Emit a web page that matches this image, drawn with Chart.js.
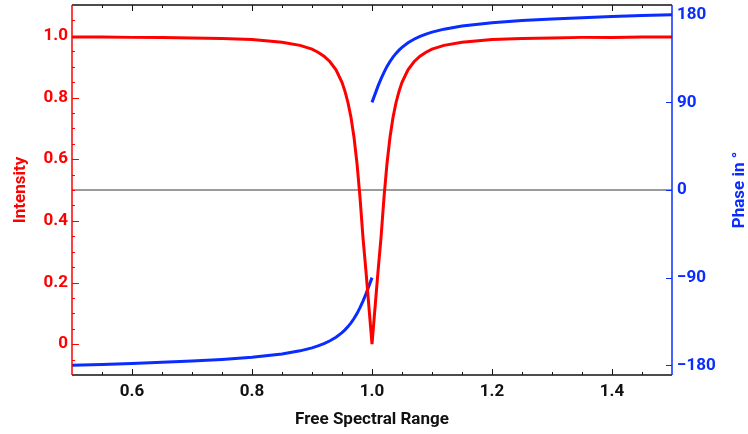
<!DOCTYPE html>
<html>
<head>
<meta charset="utf-8">
<script src="https://cdn.jsdelivr.net/npm/chart.js@4.4.0/dist/chart.umd.min.js"></script>
<style>
  html, body { margin: 0; padding: 0; background: #fff; }
  canvas { display: block; }
</style>
</head>
<body>
<canvas id="ringChart" width="748" height="434"></canvas>
<script>
// frequency in units of the free spectral range
const freq = [
    0.5, 0.55, 0.6, 0.65, 0.7, 0.75, 0.8, 0.85, 0.88, 0.9, 0.91, 0.92, 0.93, 0.94, 0.95,
    0.955, 0.96, 0.965, 0.97, 0.975, 0.98, 0.985, 0.99, 1.0,
    1.01, 1.015, 1.02, 1.025, 1.03, 1.035, 1.04, 1.045, 1.05, 1.06, 1.07, 1.08,
    1.09, 1.1, 1.12, 1.15, 1.2, 1.25, 1.3, 1.35, 1.4, 1.45, 1.5
];

// transmitted intensity (red, left axis)
const intensity = [
    0.996, 0.996, 0.995, 0.995, 0.993, 0.991, 0.988, 0.979, 0.969, 0.957, 0.947, 0.934, 0.916, 0.890, 0.849,
    0.820, 0.783, 0.735, 0.671, 0.586, 0.476, 0.345, 0.235, 0.0,
    0.235, 0.345, 0.476, 0.586, 0.671, 0.735, 0.783, 0.820, 0.849, 0.890, 0.916, 0.934,
    0.947, 0.957, 0.969, 0.979, 0.988, 0.991, 0.993, 0.995, 0.995, 0.996, 0.996
];

// phase in degrees (blue, right axis), below and above the resonance
const phaseBelow = [
    -180, -179.1, -178.1, -176.9, -175.6, -174.0, -171.8, -168.4, -165.2, -162.1, -160.1, -157.8, -154.8, -151.2, -146.5,
    -143.6, -140.3, -136.4, -132.0, -126.9, -120.9, -114.2, -106.7, -90
];
const phaseAbove = [
    90, 106.7, 114.2, 120.9, 126.9, 132.0, 136.4, 140.3, 143.6, 146.5, 151.2, 154.8,
    157.8, 160.1, 162.1, 165.2, 168.4, 171.8, 174.0, 175.6, 176.9, 178.1, 179.1, 180
];

const xTicks = [0.6, 0.8, 1.0, 1.2, 1.4];
const intensityTicks = [0, 0.2, 0.4, 0.6, 0.8, 1.0];
const phaseTicks = [-180, -90, 0, 90, 180];

const RED = '#ff0000';
const BLUE = '#0a2cff';
const FONT = 'Roboto';

// build the point lists
const split = freq.indexOf(1.0);
const intensityPts = freq.map((f, i) => ({ x: f, y: intensity[i] }));
const phasePts = freq.slice(0, split + 1).map((f, i) => ({ x: f, y: phaseBelow[i] }))
    .concat([{ x: 1.0, y: null }])
    .concat(freq.slice(split).map((f, i) => ({ x: f, y: phaseAbove[i] })));

// Mathematica-like frame: inward ticks, coloured axes, rotated titles
const framePlugin = {
    id: 'frame',
    afterDraw(chart) {
        const { ctx, chartArea: a, scales } = chart;
        ctx.save();
        ctx.lineCap = 'butt';

        function seg(x1, y1, x2, y2) {
            ctx.beginPath();
            ctx.moveTo(x1, y1);
            ctx.lineTo(x2, y2);
            ctx.stroke();
        }
        const near = (v, list) => list.some(t => Math.abs(t - v) < 1e-6);

        // top / bottom frame + x ticks
        ctx.strokeStyle = '#111';
        ctx.lineWidth = 1.5;
        seg(a.left, a.top, a.right, a.top);
        seg(a.left, a.bottom, a.right, a.bottom);
        ctx.lineWidth = 1;
        for (let k = 11; k <= 29; k++) {
            const v = k * 0.05;
            const px = Math.round(scales.x.getPixelForValue(v)) + 0.5;
            const len = near(v, xTicks) ? 6 : 3;
            seg(px, a.bottom, px, a.bottom - len);
            seg(px, a.top, px, a.top + len);
        }

        // left axis (intensity)
        ctx.strokeStyle = RED;
        ctx.lineWidth = 1.5;
        seg(a.left, a.top, a.left, a.bottom);
        ctx.lineWidth = 1;
        for (let k = -1; k <= 21; k++) {
            const v = k * 0.05;
            const py = Math.round(scales.yI.getPixelForValue(v)) + 0.5;
            const len = near(v, intensityTicks) ? 7 : 3;
            seg(a.left, py, a.left + len, py);
        }

        // right axis (phase)
        ctx.strokeStyle = BLUE;
        ctx.lineWidth = 1.5;
        seg(a.right, a.top, a.right, a.bottom);
        ctx.lineWidth = 1;
        phaseTicks.forEach(v => {
            const py = Math.round(scales.yP.getPixelForValue(v)) + 0.5;
            seg(a.right, py, a.right - 6, py);
        });

        // axis titles
        ctx.font = 'bold 17px ' + FONT;
        ctx.textAlign = 'center';
        ctx.textBaseline = 'middle';
        const midY = (a.top + a.bottom) / 2;

        ctx.fillStyle = RED;
        ctx.save();
        ctx.translate(21, midY);
        ctx.rotate(-Math.PI / 2);
        ctx.fillText('Intensity', 0, 0);
        ctx.restore();

        ctx.fillStyle = BLUE;
        ctx.save();
        ctx.translate(740, midY);
        ctx.rotate(-Math.PI / 2);
        ctx.fillText('Phase in °', 0, 0);
        ctx.restore();

        ctx.fillStyle = '#111';
        ctx.fillText('Free Spectral Range', (a.left + a.right) / 2, 420);
        ctx.restore();
    }
};

function fixWidth(w) {
    return s => { s.width = w; s.paddingTop = 0; s.paddingBottom = 0; };
}

new Chart(document.getElementById('ringChart'), {
    type: 'line',
    data: {
        datasets: [
            {
                label: 'Intensity',
                data: intensityPts,
                yAxisID: 'yI',
                borderColor: RED,
                borderWidth: 3,
                borderJoinStyle: 'miter',
                pointRadius: 0,
                tension: 0,
                order: 1
            },
            {
                label: 'Phase',
                data: phasePts,
                yAxisID: 'yP',
                borderColor: BLUE,
                borderWidth: 3,
                pointRadius: 0,
                tension: 0,
                spanGaps: false,
                order: 2
            },
            {
                label: 'zero',
                data: [{ x: 0.5, y: 0 }, { x: 1.5, y: 0 }],
                yAxisID: 'yP',
                borderColor: '#7a7a7a',
                borderWidth: 1.5,
                pointRadius: 0,
                order: 3
            }
        ]
    },
    options: {
        responsive: false,
        animation: false,
        layout: { padding: { top: 5, left: 0, right: 0, bottom: 0 } },
        plugins: {
            legend: { display: false },
            tooltip: { enabled: false }
        },
        scales: {
            x: {
                type: 'linear',
                position: 'bottom',
                min: 0.5,
                max: 1.5,
                grid: { display: false, drawTicks: false },
                border: { display: false },
                afterBuildTicks: s => { s.ticks = xTicks.map(v => ({ value: v })); },
                afterFit: s => { s.height = 59; s.paddingLeft = 0; s.paddingRight = 0; },
                ticks: {
                    color: '#111',
                    padding: 7,
                    font: { family: FONT, size: 17, weight: 'bold' },
                    maxRotation: 0,
                    callback: v => v.toFixed(1)
                }
            },
            yI: {
                type: 'linear',
                position: 'left',
                min: -0.1,
                max: 1.1,
                grid: { display: false, drawTicks: false },
                border: { display: false },
                afterBuildTicks: s => { s.ticks = intensityTicks.map(v => ({ value: v })); },
                afterFit: fixWidth(72),
                ticks: {
                    color: RED,
                    padding: 4,
                    font: { family: FONT, size: 17, weight: 'bold' },
                    callback: v => (v === 0 ? '0' : v.toFixed(1))
                }
            },
            yP: {
                type: 'linear',
                position: 'right',
                min: -190,
                max: 190,
                grid: { display: false, drawTicks: false },
                border: { display: false },
                afterBuildTicks: s => { s.ticks = phaseTicks.map(v => ({ value: v })); },
                afterFit: fixWidth(76),
                ticks: {
                    color: BLUE,
                    padding: 5,
                    font: { family: FONT, size: 17, weight: 'bold' },
                    callback: v => (v < 0 ? '\u2212' + (-v) : String(v))
                }
            }
        }
    },
    plugins: [framePlugin]
});
</script>
</body>
</html>
